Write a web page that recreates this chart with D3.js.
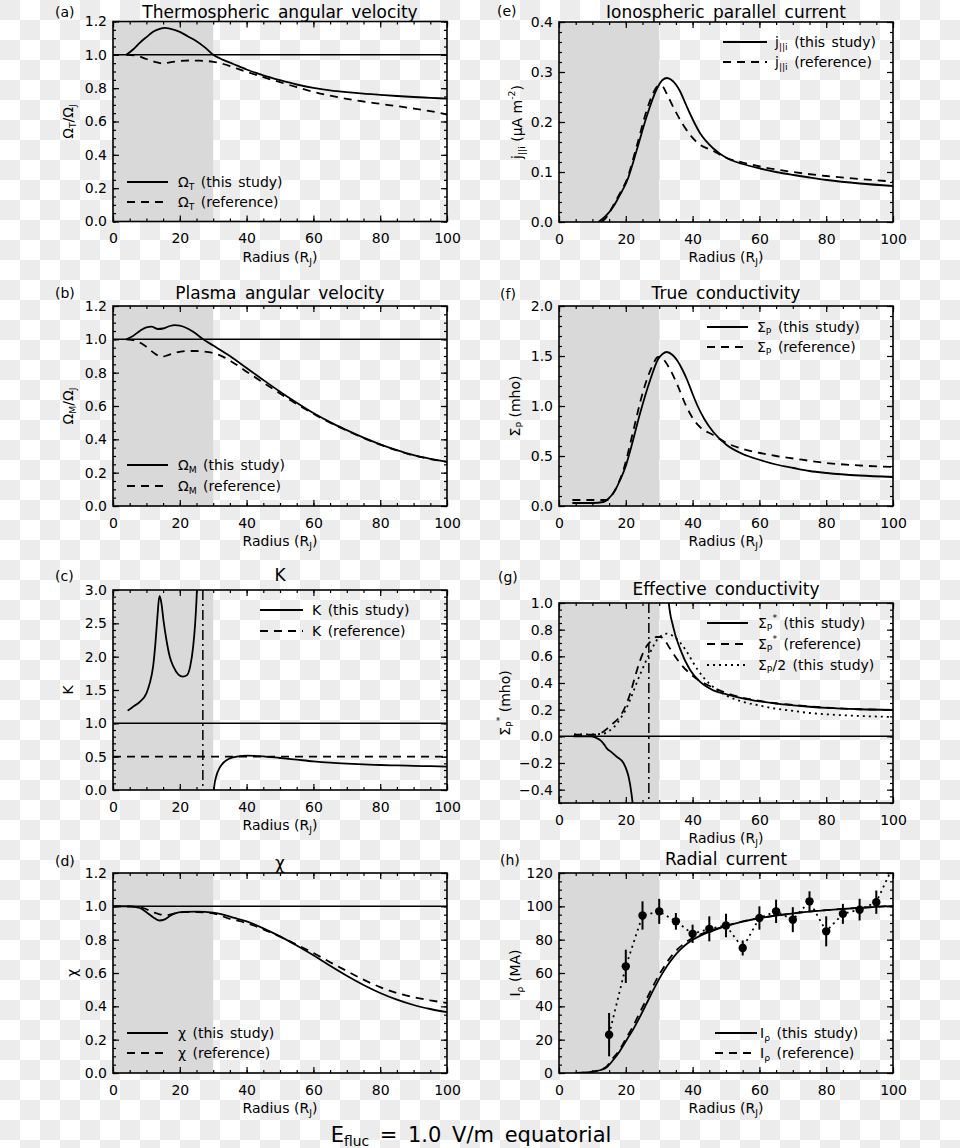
<!DOCTYPE html>
<html><head><meta charset="utf-8">
<script src="https://cdn.jsdelivr.net/npm/d3@7"></script>
<style>
html,body{margin:0;padding:0;}
body{width:960px;height:1148px;overflow:hidden;
 background-color:#fff;
 background-image:
  linear-gradient(45deg,#ececec 25%,transparent 25%,transparent 75%,#ececec 75%),
  linear-gradient(45deg,#ececec 25%,transparent 25%,transparent 75%,#ececec 75%);
 background-size:40px 40px;background-position:20px 0,0 20px;}
svg text{white-space:pre;}
</style></head>
<body>
<svg id="chart" width="960" height="1148"></svg>
<script>
// ---------------- DATA ----------------
const xTicks = [0, 20, 40, 60, 80, 100];
const shadeEdge = 30;          // R_J, grey shaded region 0-30
const corotationBreak = 26.9;  // R_J, dash-dot line in (c) and (g)

// (a) thermospheric angular velocity
const omegaT_this = [[4,1.0],[6,1.032],[8,1.072],[10,1.106],[12,1.138],[14,1.156],[15.5,1.162],[17,1.157],[20,1.138],[22.5,1.11],[25,1.082],[27.5,1.045],[30,1.0],[33,0.97],[36,0.945],[40,0.912],[45,0.877],[50,0.848],[55,0.822],[60,0.802],[65,0.787],[70,0.776],[75,0.767],[80,0.76],[85,0.753],[90,0.747],[95,0.742],[100,0.737]];
const omegaT_ref = [[4,1.0],[7,0.995],[10,0.975],[12.5,0.958],[15,0.948],[17,0.955],[20,0.963],[23,0.966],[26,0.965],[30,0.958],[33,0.945],[36,0.925],[40,0.898],[45,0.866],[50,0.836],[55,0.806],[60,0.778],[65,0.755],[70,0.736],[75,0.72],[80,0.706],[85,0.692],[90,0.678],[95,0.662],[100,0.642]];

// (b) plasma angular velocity
const omegaM_this = [[4,1.0],[6,1.02],[8,1.05],[10,1.072],[11.5,1.076],[13.5,1.062],[15,1.065],[17,1.08],[18.5,1.085],[20,1.082],[22,1.068],[24,1.045],[27,1.0],[30,0.963],[35,0.9],[40,0.828],[45,0.756],[50,0.686],[55,0.62],[60,0.558],[65,0.503],[70,0.455],[75,0.41],[80,0.37],[85,0.335],[90,0.305],[95,0.283],[100,0.265]];
const omegaM_ref = [[4,1.0],[7,0.99],[10,0.955],[12.5,0.915],[14.5,0.895],[16.5,0.905],[19,0.922],[22,0.93],[25,0.93],[28,0.925],[30,0.918],[33,0.895],[36,0.86],[40,0.806],[45,0.74],[50,0.675],[55,0.612],[60,0.553],[65,0.5],[70,0.452],[75,0.408],[80,0.368],[85,0.333],[90,0.303],[95,0.282],[100,0.265]];

// (c) K
const K_this_inner = [[4.4,1.19],[6,1.25],[8,1.32],[10,1.45],[11,1.6],[12,1.85],[12.7,2.2],[13.3,2.6],[13.9,2.91],[14.5,2.8],[15.1,2.55],[16,2.25],[17,2.0],[18.1,1.85],[19.6,1.73],[20.9,1.7],[22.1,1.72],[23.1,1.85],[24,2.15],[24.6,2.5],[25,2.85],[25.3,3.2]];
const K_this_outer = [[29.9,-0.3],[30.3,0.05],[31,0.22],[32,0.34],[33.5,0.43],[35,0.475],[37.5,0.505],[40,0.515],[45,0.505],[50,0.48],[55,0.455],[60,0.43],[65,0.41],[70,0.395],[75,0.383],[80,0.375],[85,0.368],[90,0.362],[95,0.357],[100,0.352]];
const K_ref = [[0,0.5],[100,0.5]];

// (d) chi
const chi_this = [[0,1.0],[5,1.0],[8,0.99],[10,0.965],[12,0.935],[13.8,0.915],[15.5,0.922],[17,0.942],[18.5,0.958],[21,0.967],[25,0.968],[30,0.962],[33,0.95],[36,0.932],[40,0.91],[45,0.868],[50,0.82],[55,0.765],[60,0.706],[65,0.643],[70,0.583],[75,0.528],[80,0.48],[85,0.44],[90,0.408],[95,0.384],[100,0.365]];
const chi_ref = [[0,1.0],[6,0.998],[9,0.99],[12,0.965],[14,0.952],[16,0.948],[18,0.955],[21,0.965],[25,0.966],[30,0.958],[35,0.925],[40,0.9],[45,0.862],[50,0.818],[55,0.77],[60,0.72],[65,0.665],[70,0.612],[75,0.56],[80,0.515],[85,0.48],[90,0.455],[95,0.436],[100,0.42]];

// (e) ionospheric parallel current
const jpar_this = [[11.8,0],[14,0.012],[16.3,0.031],[18.3,0.055],[20.3,0.081],[23.2,0.142],[26.2,0.21],[29.2,0.265],[31,0.284],[32.3,0.288],[33.5,0.285],[35,0.275],[36.2,0.262],[38,0.235],[39.2,0.217],[42.2,0.178],[46.2,0.147],[50.2,0.128],[55,0.116],[60.2,0.107],[65,0.1],[70.2,0.094],[75,0.089],[80.2,0.084],[90.1,0.077],[100,0.072]];
const jpar_ref = [[12.8,0],[14.5,0.012],[16.3,0.034],[18.3,0.058],[20.3,0.085],[23.2,0.15],[26.2,0.222],[28.2,0.258],[29.7,0.272],[31,0.271],[32.2,0.257],[34.2,0.23],[37.2,0.194],[41.2,0.16],[46.2,0.142],[50.2,0.128],[55,0.119],[60.2,0.111],[70,0.1],[80,0.092],[90,0.086],[100,0.081]];

// (f) true conductivity
const sigP_this = [[4,0.03],[10,0.03],[13.3,0.04],[15,0.08],[15.8,0.11],[17,0.17],[18.3,0.26],[20,0.4],[21.3,0.55],[24.3,0.93],[27.3,1.26],[29.7,1.47],[31,1.52],[32.2,1.54],[34,1.51],[35.5,1.45],[37,1.36],[38.5,1.25],[40,1.12],[41.5,1.0],[43.5,0.87],[46.2,0.74],[50.2,0.61],[55,0.52],[60.2,0.46],[65,0.415],[70.2,0.38],[75,0.35],[80.2,0.33],[90,0.305],[100,0.29]];
const sigP_ref = [[4,0.06],[10,0.06],[14.3,0.06],[16.3,0.13],[17.8,0.23],[19.3,0.36],[20.8,0.55],[22.3,0.76],[25.3,1.16],[27.8,1.39],[29.7,1.49],[30.8,1.485],[31.7,1.45],[33.5,1.35],[35.2,1.23],[38.2,0.99],[40.2,0.87],[42.2,0.79],[46.2,0.71],[50.2,0.63],[55,0.57],[60.2,0.53],[65,0.5],[70.2,0.475],[80.2,0.43],[90,0.405],[100,0.39]];

// (g) effective conductivity
const sigStar_this_inner = [[4.3,0.0],[9.3,0.0],[11,-0.01],[12.3,-0.028],[13.5,-0.06],[14.3,-0.09],[15.8,-0.12],[17.3,-0.153],[19.3,-0.2],[20.2,-0.25],[20.9,-0.31],[21.7,-0.43],[22.3,-0.56]];
const sigStar_this_outer = [[32.4,1.2],[32.8,1.02],[34.2,0.82],[36.2,0.66],[39.2,0.5],[42.2,0.41],[46.2,0.345],[50.2,0.315],[55,0.285],[60.2,0.262],[65,0.245],[70.2,0.232],[75,0.222],[80.2,0.213],[90,0.203],[100,0.198]];
const sigStar_ref = [[4.5,0.012],[8,0.012],[11,0.012],[13,0.03],[14.5,0.06],[16.3,0.1],[18.3,0.15],[19.8,0.22],[21.3,0.32],[22.8,0.45],[24.3,0.57],[26.3,0.68],[27.8,0.72],[29.2,0.745],[30.5,0.745],[31.5,0.725],[33.2,0.66],[36.2,0.55],[40.2,0.45],[46.2,0.365],[50.2,0.325],[55,0.29],[60.2,0.265],[65,0.248],[70.2,0.235],[80.2,0.215],[90,0.203],[100,0.198]];
const sigHalf_this = [[4.5,0.015],[10,0.015],[13.3,0.02],[15,0.04],[16.5,0.07],[18.3,0.13],[20,0.2],[21.3,0.275],[24.3,0.465],[27.3,0.63],[29.7,0.735],[31,0.76],[32.2,0.77],[34,0.755],[35.5,0.725],[37,0.68],[38.5,0.625],[40,0.56],[41.5,0.5],[43.5,0.435],[46.2,0.37],[50.2,0.305],[55,0.26],[60.2,0.23],[65,0.207],[70.2,0.19],[75,0.175],[80.2,0.165],[90,0.153],[100,0.145]];

// (h) radial current
const Irho_this = [[5,0],[8,0.3],[10.3,0.8],[12.5,1.8],[14.3,3.5],[16.3,8],[18,12.5],[20.3,20],[22.3,26.5],[24.3,34],[26.3,42],[28.3,50],[30.3,57.5],[32.3,64],[34.3,69.5],[36.3,74],[38.3,77.5],[40.3,80.2],[43,83],[46.3,85.5],[50.2,88.2],[55,90.8],[60.2,93],[65,94.5],[70.2,95.8],[75,96.8],[80.2,97.7],[85,98.4],[90.1,99.1],[95,99.7],[100,100.3]];
const Irho_ref = [[5,0],[8,0.3],[10.3,0.9],[12.5,2],[14.3,4],[16,8.5],[18,13.5],[20,20.5],[22,27.5],[24,35.5],[26,43.5],[28,51.5],[30,59],[32,65.5],[34,71],[36,75.2],[38,78.5],[40,81],[43,83.7],[46.3,86],[50.2,88.5],[55,91],[60.2,93],[65,94.5],[70,95.8],[80,97.7],[90,99.1],[100,100.3]];
const obsRadius = [15,20,25,30,35,40,45,50,55,60,65,70,75,80,85,90,95];
const obsCurrent = [23,64,94.5,97,91,83.5,86.5,88.5,75,93,97,92,103,85,95.5,98,102.5];
const obsError = [13,10,8.5,7.5,5,5.5,7.5,7,4.5,7,7,7.5,6,9,6,6.5,7];
const obsTail = [100,124];

// ---------------- LAYOUT ----------------
const PW = 334, PH = 200;
const FONT = "'DejaVu Sans', sans-serif";
const DASH = "8,6", DOT = "2,4", DASHDOT = "10,4,2,4";

const panels = [
 {id:'a', letter:'(a)', title:'Thermospheric angular velocity', ylabel:'Ω_{T}/Ω_{J}', left:113, top:21.5, titleY:12, letterX:55, letterY:12, ylabX:68,
  ydom:[0,1.2], ymaj:0.2, ymin:0.05, fmt:'.1f', hlines:[{v:1}], vlines:[],
  curves:[{d:omegaT_this},{d:omegaT_ref,dash:DASH}],
  leg:{x1:127,x2:168,tx:178,y:182,dy:20,items:[{t:'Ω_{T} (this study)'},{t:'Ω_{T} (reference)',dash:DASH}]}},
 {id:'b', letter:'(b)', title:'Plasma angular velocity', ylabel:'Ω_{M}/Ω_{J}', left:113, top:306, titleY:293, letterX:55, letterY:293, ylabX:68,
  ydom:[0,1.2], ymaj:0.2, ymin:0.05, fmt:'.1f', hlines:[{v:1}], vlines:[],
  curves:[{d:omegaM_this},{d:omegaM_ref,dash:DASH}],
  leg:{x1:127,x2:168,tx:178,y:465,dy:21,items:[{t:'Ω_{M} (this study)'},{t:'Ω_{M} (reference)',dash:DASH}]}},
 {id:'c', letter:'(c)', title:'K', ylabel:'K', left:113, top:590, titleY:575, letterX:55, letterY:576, ylabX:68,
  ydom:[0,3], ymaj:0.5, ymin:0.1, fmt:'.1f', hlines:[{v:1}], vlines:[{v:corotationBreak,dash:DASHDOT}],
  curves:[{d:K_this_inner},{d:K_this_outer},{d:K_ref,dash:DASH}],
  leg:{x1:260,x2:303,tx:312,y:610,dy:21,items:[{t:'K (this study)'},{t:'K (reference)',dash:DASH}]}},
 {id:'d', letter:'(d)', title:'χ', ylabel:'χ', left:113, top:873, titleY:863, letterX:55, letterY:861, ylabX:72,
  ydom:[0,1.2], ymaj:0.2, ymin:0.05, fmt:'.1f', hlines:[{v:1}], vlines:[],
  curves:[{d:chi_this},{d:chi_ref,dash:DASH}],
  leg:{x1:127,x2:168,tx:178,y:1033,dy:20,items:[{t:'χ (this study)'},{t:'χ (reference)',dash:DASH}]}},
 {id:'e', letter:'(e)', title:'Ionospheric parallel current', ylabel:'j_{||i} (μA m^{-2})', left:559, top:22, titleY:12, letterX:497, letterY:11, ylabX:517,
  ydom:[0,0.4], ymaj:0.1, ymin:0.02, fmt:'.1f', hlines:[], vlines:[],
  curves:[{d:jpar_this},{d:jpar_ref,dash:DASH}],
  leg:{x1:723,x2:767,tx:775,y:42,dy:20,items:[{t:'j_{||i} (this study)'},{t:'j_{||i} (reference)',dash:DASH}]}},
 {id:'f', letter:'(f)', title:'True conductivity', ylabel:'Σ_{P} (mho)', left:559, top:306, titleY:293, letterX:500, letterY:294, ylabX:515,
  ydom:[0,2], ymaj:0.5, ymin:0.1, fmt:'.1f', hlines:[], vlines:[],
  curves:[{d:sigP_this},{d:sigP_ref,dash:DASH}],
  leg:{x1:707,x2:748,tx:757,y:327,dy:20,items:[{t:'Σ_{P} (this study)'},{t:'Σ_{P} (reference)',dash:DASH}]}},
 {id:'g', letter:'(g)', title:'Effective conductivity', ylabel:'Σ_{P}^{*} (mho)', left:559, top:603, titleY:589, letterX:498, letterY:577, ylabX:505,
  ydom:[-0.5,1.0], ymaj:0.2, ymaj0:-0.4, ymin:0.05, fmt:'.1f', hlines:[{v:0}], vlines:[{v:corotationBreak,dash:DASHDOT}],
  curves:[{d:sigStar_this_inner},{d:sigStar_this_outer},{d:sigStar_ref,dash:DASH},{d:sigHalf_this,dash:DOT}],
  leg:{x1:707,x2:748,tx:758,y:623,dy:21,items:[{t:'Σ_{P}^{*} (this study)'},{t:'Σ_{P}^{*} (reference)',dash:DASH},{t:'Σ_{P}/2 (this study)',dash:DOT}]}},
 {id:'h', letter:'(h)', title:'Radial current', ylabel:'I_{ρ} (MA)', left:559, top:873, titleY:859, letterX:500, letterY:860, ylabX:515,
  ydom:[0,120], ymaj:20, ymin:5, fmt:'d', hlines:[], vlines:[],
  curves:[{d:Irho_this},{d:Irho_ref,dash:DASH}], obs:true,
  leg:{x1:715,x2:757,tx:760,y:1033,dy:20,items:[{t:'I_{ρ} (this study)'},{t:'I_{ρ} (reference)',dash:DASH}]}},
];

const svg = d3.select('#chart');

function rich(textSel, str, size) {
  const re = /([_^])\{([^}]*)\}|([^_^]+)/g;
  let m, shift = 0;
  while ((m = re.exec(str))) {
    if (m[3] !== undefined) {
      const ts = textSel.append('tspan').text(m[3]);
      if (shift) { ts.attr('dy', -shift); shift = 0; }
    } else {
      const d = m[1] === '_' ? size * 0.3 : -size * 0.42;
      textSel.append('tspan').text(m[2]).attr('font-size', size * 0.66).attr('dy', d - shift);
      shift = d;
    }
  }
}

function txt(x, y, str, size, anchor) {
  const t = svg.append('text').attr('x', x).attr('y', y).attr('font-family', FONT)
    .attr('font-size', size).attr('text-anchor', anchor || 'middle').attr('fill', '#000')
    .attr('dominant-baseline', 'central');
  rich(t, str, size);
  return t;
}

panels.forEach(p => {
  const x = d3.scaleLinear().domain([0, 100]).range([p.left, p.left + PW]);
  const y = d3.scaleLinear().domain(p.ydom).range([p.top + PH, p.top]);
  const clipId = 'clip-' + p.id;
  svg.append('clipPath').attr('id', clipId).append('rect')
    .attr('x', p.left).attr('y', p.top).attr('width', PW).attr('height', PH);

  // shaded region
  svg.append('rect').attr('x', x(0)).attr('y', p.top).attr('width', x(shadeEdge) - x(0)).attr('height', PH)
    .attr('fill', '#d9d9d9');

  const g = svg.append('g').attr('clip-path', `url(#${clipId})`);
  const line = d3.line().x(d => x(d[0])).y(d => y(d[1])).curve(d3.curveMonotoneX);

  p.hlines.forEach(h => g.append('line').attr('x1', x(0)).attr('x2', x(100)).attr('y1', y(h.v)).attr('y2', y(h.v))
    .attr('stroke', '#000').attr('stroke-width', 1.5).attr('stroke-dasharray', h.dash || null));
  p.vlines.forEach(v => g.append('line').attr('x1', x(v.v)).attr('x2', x(v.v)).attr('y1', p.top).attr('y2', p.top + PH)
    .attr('stroke', '#000').attr('stroke-width', 1.5).attr('stroke-dasharray', v.dash || null));

  p.curves.forEach(c => g.append('path').attr('d', line(c.d)).attr('fill', 'none').attr('stroke', '#000')
    .attr('stroke-width', 1.8).attr('stroke-dasharray', c.dash || null));

  if (p.obs) {
    const pts = obsRadius.map((r, i) => [r, obsCurrent[i]]).concat([obsTail]);
    g.append('path').attr('d', d3.line().x(d => x(d[0])).y(d => y(d[1]))(pts)).attr('fill', 'none')
      .attr('stroke', '#000').attr('stroke-width', 1.8).attr('stroke-dasharray', DOT);
    obsRadius.forEach((r, i) => {
      g.append('line').attr('x1', x(r)).attr('x2', x(r)).attr('y1', y(obsCurrent[i] - obsError[i])).attr('y2', y(obsCurrent[i] + obsError[i]))
        .attr('stroke', '#000').attr('stroke-width', 2);
      g.append('circle').attr('cx', x(r)).attr('cy', y(obsCurrent[i])).attr('r', 4.2).attr('fill', '#000');
    });
  }

  // axes
  const ymajVals = d3.range(Math.round(((p.ymaj0 !== undefined ? p.ymaj0 : p.ydom[0]) ) / p.ymaj), Math.round(p.ydom[1] / p.ymaj) + 1)
    .map(k => +(k * p.ymaj).toFixed(6));
  const yminVals = d3.range(Math.ceil(p.ydom[0] / p.ymin - 1e-6), Math.floor(p.ydom[1] / p.ymin + 1e-6) + 1).map(k => +(k * p.ymin).toFixed(6));
  const xminVals = d3.range(0, 101, 5);

  function styleAxis(sel) {
    sel.select('.domain').remove();
    sel.selectAll('line').attr('stroke', '#000').attr('stroke-width', 1.2);
    sel.selectAll('text').attr('font-family', FONT).attr('font-size', 14).attr('fill', '#000');
    sel.attr('font-family', null).attr('font-size', null);
  }
  const bot = p.top + PH;
  svg.append('g').attr('transform', `translate(0,${bot})`)
    .call(d3.axisBottom(x).tickValues(xTicks).tickSize(-6).tickPadding(12).tickFormat(d3.format('d'))).call(styleAxis);
  svg.append('g').attr('transform', `translate(0,${bot})`)
    .call(d3.axisBottom(x).tickValues(xminVals).tickSize(-3).tickFormat('')).call(styleAxis);
  svg.append('g').attr('transform', `translate(0,${p.top})`)
    .call(d3.axisTop(x).tickValues(xTicks).tickSize(-6).tickFormat('')).call(styleAxis);
  svg.append('g').attr('transform', `translate(0,${p.top})`)
    .call(d3.axisTop(x).tickValues(xminVals).tickSize(-3).tickFormat('')).call(styleAxis);
  svg.append('g').attr('transform', `translate(${p.left},0)`)
    .call(d3.axisLeft(y).tickValues(ymajVals).tickSize(-6).tickPadding(6).tickFormat(d3.format(p.fmt))).call(styleAxis);
  svg.append('g').attr('transform', `translate(${p.left},0)`)
    .call(d3.axisLeft(y).tickValues(yminVals).tickSize(-3).tickFormat('')).call(styleAxis);
  svg.append('g').attr('transform', `translate(${p.left + PW},0)`)
    .call(d3.axisRight(y).tickValues(ymajVals).tickSize(-6).tickFormat('')).call(styleAxis);
  svg.append('g').attr('transform', `translate(${p.left + PW},0)`)
    .call(d3.axisRight(y).tickValues(yminVals).tickSize(-3).tickFormat('')).call(styleAxis);

  svg.append('rect').attr('x', p.left).attr('y', p.top).attr('width', PW).attr('height', PH)
    .attr('fill', 'none').attr('stroke', '#000').attr('stroke-width', 1.6);

  // texts
  txt(p.left + PW / 2, p.titleY, p.title, 17).attr('word-spacing', 3);
  txt(p.letterX, p.letterY, p.letter, 14, 'start');
  txt(p.left + PW / 2, bot + 35, 'Radius (R_{J})', 14);
  txt(0, 0, p.ylabel, 14).attr('transform', `translate(${p.ylabX},${p.top + PH / 2}) rotate(-90)`);

  // legend
  p.leg.items.forEach((it, i) => {
    const ly = p.leg.y + i * p.leg.dy;
    svg.append('line').attr('x1', p.leg.x1).attr('x2', p.leg.x2).attr('y1', ly).attr('y2', ly)
      .attr('stroke', '#000').attr('stroke-width', 1.8).attr('stroke-dasharray', it.dash || null);
    txt(p.leg.tx, ly, it.t, 14, 'start').attr('word-spacing', 2);
  });
});

txt(471, 1135, 'E_{fluc} = 1.0 V/m equatorial', 21).attr('word-spacing', 4);
</script>
</body></html>
